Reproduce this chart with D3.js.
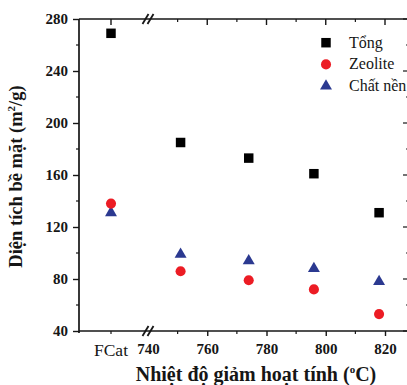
<!DOCTYPE html>
<html>
<head>
<meta charset="utf-8">
<script src="https://cdn.jsdelivr.net/npm/d3@7/dist/d3.min.js"></script>
<style>
  html, body { margin: 0; padding: 0; background: #fff; }
  svg { display: block; }
  text { font-family: "Liberation Serif", "Times New Roman", serif; }
</style>
</head>
<body>
<svg id="chart" width="407" height="385"></svg>
<script>
// Surface area (m²/g) of fresh catalyst (FCat) and after deactivation at several temperatures
const refCategory = ["FCat"];
const temperatures = [751, 774, 796, 818];
const tongFCat = 269;
const tongValues = [185, 173, 161, 131];
const zeoliteFCat = 138;
const zeoliteValues = [86, 79, 72, 53];
const chatNenFCat = 131;
const chatNenValues = [99, 94, 88, 78];
const yTicks = [40, 80, 120, 160, 200, 240, 280];
const xTicks = [740, 760, 780, 800, 820];
const seriesNames = ["Tổng", "Zeolite", "Chất nền"];

const svg = d3.select("#chart");
const plotLeft = 79, plotTop = 19, plotBottom = 331, plotRight = 409, breakX = 148;

const y = d3.scaleLinear().domain([40, 280]).range([plotBottom, plotTop]);
const xRef = d3.scalePoint().domain(refCategory).range([plotLeft, breakX - 5]).padding(0.5);
const x = d3.scaleLinear().domain([740, 820]).range([breakX, 385]);

const ink = "#161616";

// frame
const frame = svg.append("g").attr("stroke", ink).attr("stroke-width", 1.7).attr("fill", "none");
frame.append("line").attr("x1", plotLeft).attr("x2", plotRight).attr("y1", plotTop).attr("y2", plotTop);
frame.append("line").attr("x1", plotLeft).attr("x2", plotRight).attr("y1", plotBottom).attr("y2", plotBottom);
frame.append("line").attr("x1", plotLeft).attr("x2", plotLeft).attr("y1", plotTop).attr("y2", plotBottom + 2);
frame.append("line").attr("x1", plotRight).attr("x2", plotRight).attr("y1", plotTop).attr("y2", plotBottom);

// left axis
const yAxis = d3.axisLeft(y).tickValues(yTicks).tickSize(6).tickPadding(5).tickFormat(d3.format("d"));
const gy = svg.append("g").attr("transform", `translate(${plotLeft},0)`).call(yAxis);
gy.select(".domain").remove();
gy.selectAll(".tick line").attr("stroke", ink).attr("stroke-width", 1.4);
gy.selectAll(".tick text").attr("font-size", 15).attr("font-weight", "bold")
  .attr("font-family", "Liberation Serif").attr("fill", ink);
const yMinor = d3.range(60, 280, 40);
svg.append("g").selectAll("line").data(yMinor).join("line")
  .attr("x1", plotLeft - 3).attr("x2", plotLeft).attr("y1", d => y(d)).attr("y2", d => y(d))
  .attr("stroke", ink).attr("stroke-width", 1.2);
// right axis ticks (mirrored, inward)
svg.append("g").selectAll("line").data(yTicks.concat(yMinor)).join("line")
  .attr("x1", plotRight).attr("x2", d => yTicks.includes(d) ? plotRight - 6 : plotRight - 3)
  .attr("y1", d => y(d)).attr("y2", d => y(d))
  .attr("stroke", ink).attr("stroke-width", 1.2);

// bottom axis: numeric segment
const xAxis = d3.axisBottom(x).tickValues(xTicks).tickSize(5).tickPadding(7).tickFormat(d3.format("d"));
const gx = svg.append("g").attr("transform", `translate(0,${plotBottom})`).call(xAxis);
gx.select(".domain").remove();
gx.selectAll(".tick line").attr("stroke", ink).attr("stroke-width", 1.4)
  .attr("display", d => d === 740 ? "none" : null);
gx.selectAll(".tick text").attr("font-size", 15).attr("font-weight", "bold")
  .attr("font-family", "Liberation Serif").attr("fill", ink);
const xMinor = [750, 770, 790, 810];
svg.append("g").selectAll("line").data(xMinor).join("line")
  .attr("x1", d => x(d)).attr("x2", d => x(d)).attr("y1", plotBottom).attr("y2", plotBottom + 3)
  .attr("stroke", ink).attr("stroke-width", 1.2);

// bottom axis: reference category
svg.append("line").attr("x1", xRef("FCat")).attr("x2", xRef("FCat"))
  .attr("y1", plotBottom).attr("y2", plotBottom + 3).attr("stroke", ink).attr("stroke-width", 1.2);
svg.append("text").attr("x", xRef("FCat")).attr("y", plotBottom + 25)
  .attr("text-anchor", "middle").attr("font-size", 17.5).attr("fill", ink).text("FCat");

// top axis ticks (inward)
svg.append("g").selectAll("line").data(xTicks.filter(d => d !== 740)).join("line")
  .attr("x1", d => x(d)).attr("x2", d => x(d)).attr("y1", plotTop).attr("y2", plotTop + 6)
  .attr("stroke", ink).attr("stroke-width", 1.4);
svg.append("g").selectAll("line").data(xMinor).join("line")
  .attr("x1", d => x(d)).attr("x2", d => x(d)).attr("y1", plotTop).attr("y2", plotTop + 3)
  .attr("stroke", ink).attr("stroke-width", 1.2);
svg.append("line").attr("x1", xRef("FCat")).attr("x2", xRef("FCat"))
  .attr("y1", plotTop).attr("y2", plotTop + 6).attr("stroke", ink).attr("stroke-width", 1.4);

// axis break marks
[plotTop, plotBottom].forEach(yy => {
  [-2.5, 2.5].forEach(dx => {
    svg.append("line")
      .attr("x1", breakX + dx - 3).attr("y1", yy + 5)
      .attr("x2", breakX + dx + 3).attr("y2", yy - 5)
      .attr("stroke", ink).attr("stroke-width", 1.8);
  });
});

// axis titles
const yTitle = svg.append("text")
  .attr("transform", `translate(22,${(83 + 270) / 2}) rotate(-90)`)
  .attr("text-anchor", "middle").attr("font-size", 18.5).attr("font-weight", "bold").attr("fill", ink);
yTitle.append("tspan").text("Diện tích bề mặt (m");
yTitle.append("tspan").attr("font-size", 11).attr("dy", -7).text("2");
yTitle.append("tspan").attr("dy", 7).text("/g)");

const xTitle = svg.append("text")
  .attr("x", 256).attr("y", 381)
  .attr("text-anchor", "middle").attr("font-size", 20).attr("font-weight", "bold").attr("fill", ink);
xTitle.append("tspan").text("Nhiệt độ giảm hoạt tính (");
xTitle.append("tspan").attr("font-size", 11).attr("dy", -8).text("o");
xTitle.append("tspan").attr("dy", 8).text("C)");

// markers
const red = "#ec1c24", blue = "#2b3990";
const sym = (type, size) => d3.symbol().type(type).size(size)();

const points = [];
points.push({ cx: xRef("FCat"), v: tongFCat, s: "sq" });
points.push({ cx: xRef("FCat"), v: chatNenFCat, s: "tri" });
points.push({ cx: xRef("FCat"), v: zeoliteFCat, s: "ci" });
temperatures.forEach((t, i) => {
  points.push({ cx: x(t), v: tongValues[i], s: "sq" });
  points.push({ cx: x(t), v: chatNenValues[i], s: "tri" });
  points.push({ cx: x(t), v: zeoliteValues[i], s: "ci" });
});

const shapes = {
  sq: { d: sym(d3.symbolSquare, 90), fill: "#000" },
  ci: { d: sym(d3.symbolCircle, 80), fill: red },
  tri: { d: sym(d3.symbolTriangle, 62), fill: blue }
};

svg.append("g").selectAll("path").data(points).join("path")
  .attr("transform", p => `translate(${p.cx},${y(p.v)})`)
  .attr("d", p => shapes[p.s].d)
  .attr("fill", p => shapes[p.s].fill);

// legend
const legendKeys = ["sq", "ci", "tri"];
const lg = svg.append("g");
legendKeys.forEach((k, i) => {
  const ly = 42.7 + i * 21.7;
  lg.append("path").attr("transform", `translate(326,${ly})`)
    .attr("d", shapes[k].d).attr("fill", shapes[k].fill);
  lg.append("text").attr("x", 349).attr("y", ly + 5)
    .attr("font-size", 16).attr("fill", ink).text(seriesNames[i]);
});
</script>
</body>
</html>
